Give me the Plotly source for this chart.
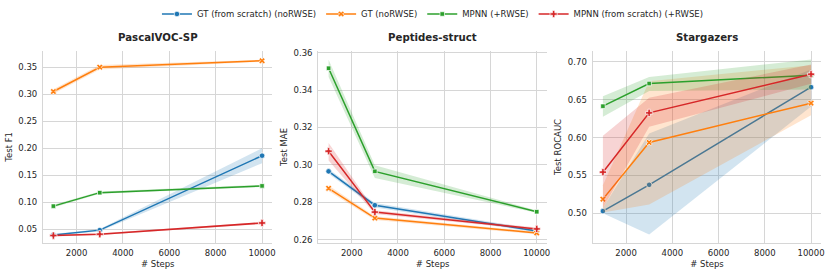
import plotly.graph_objects as go

steps = [1000, 3000, 10000]
series_names = ["GT (from scratch) (noRWSE)", "GT (noRWSE)", "MPNN (+RWSE)", "MPNN (from scratch) (+RWSE)"]
colors = ["#1f77b4", "#ff7f0e", "#2ca02c", "#d62728"]
fills = ["rgba(31,119,180,0.2)", "rgba(255,127,14,0.2)", "rgba(44,160,44,0.2)", "rgba(214,39,40,0.2)"]
symbols = ["circle", "x", "square", "cross"]
msizes = [5.5, 5.5, 4.5, 6]

panel_titles = ["PascalVOC-SP", "Peptides-struct", "Stargazers"]
y_titles = ["Test F1", "Test MAE", "Test ROCAUC"]

# PascalVOC-SP: mean, lower, upper per series
pascal_mean = [[0.039, 0.048, 0.186], [0.305, 0.350, 0.362], [0.0925, 0.1175, 0.130], [0.038, 0.0405, 0.0613]]
pascal_low = [[0.037, 0.046, 0.172], [0.301, 0.346, 0.360], [0.090, 0.1155, 0.128], [0.036, 0.039, 0.059]]
pascal_high = [[0.041, 0.050, 0.200], [0.309, 0.354, 0.364], [0.095, 0.1195, 0.132], [0.040, 0.042, 0.063]]

# Peptides-struct
pep_mean = [[0.2965, 0.2784, 0.2646], [0.2874, 0.2715, 0.2635], [0.3517, 0.2965, 0.2749], [0.3073, 0.2747, 0.2657]]
pep_low = [[0.2952, 0.2772, 0.2638], [0.2860, 0.2705, 0.2628], [0.3470, 0.2929, 0.2743], [0.3023, 0.2737, 0.2650]]
pep_high = [[0.2978, 0.2796, 0.2654], [0.2890, 0.2725, 0.2642], [0.3562, 0.2998, 0.2755], [0.3117, 0.2757, 0.2664]]

# Stargazers
star_mean = [[0.503, 0.5377, 0.6666], [0.5188, 0.5936, 0.6455], [0.6415, 0.6714, 0.6824], [0.5544, 0.6327, 0.6837]]
star_low = [[0.500, 0.4722, 0.641], [0.501, 0.5118, 0.6296], [0.6274, 0.6617, 0.6635], [0.507, 0.6142, 0.671]]
star_high = [[0.507, 0.6055, 0.690], [0.537, 0.6745, 0.6956], [0.6547, 0.680, 0.7031], [0.6024, 0.6525, 0.6965]]

panels = [(pascal_mean, pascal_low, pascal_high), (pep_mean, pep_low, pep_high), (star_mean, star_low, star_high)]
y_ranges = [[0.0236, 0.381], [0.2580, 0.3612], [0.4605, 0.7150]]
y_ticks = [[0.05, 0.10, 0.15, 0.20, 0.25, 0.30, 0.35], [0.26, 0.28, 0.30, 0.32, 0.34, 0.36], [0.50, 0.55, 0.60, 0.65, 0.70]]
y_fmt = [".2f", ".2f", ".2f"]
x_domains = [[0.0517, 0.3279], [0.3829, 0.6584], [0.7130, 0.9885]]
y_domain = [0.1185, 0.817]

W, H = 831, 276
font_family = "DejaVu Sans"
text_col = "#262626"
grid_col = "#d6d6d6"
fs = 8.5

fig = go.Figure()

for p, (mean, low, high) in enumerate(panels):
    xa = "x" if p == 0 else f"x{p+1}"
    ya = "y" if p == 0 else f"y{p+1}"
    for s in range(4):
        fig.add_trace(go.Scatter(
            x=steps + steps[::-1], y=high[s] + low[s][::-1],
            fill="toself", fillcolor=fills[s], line=dict(width=0),
            mode="lines", hoverinfo="skip", showlegend=False,
            xaxis=xa, yaxis=ya))
        fig.add_trace(go.Scatter(
            x=steps, y=mean[s], mode="lines+markers",
            name=series_names[s], legendgroup=series_names[s],
            showlegend=(p == 0),
            line=dict(color=colors[s], width=1.5),
            marker=dict(symbol=symbols[s], size=msizes[s], color=colors[s],
                        line=dict(color="white", width=0.7)),
            xaxis=xa, yaxis=ya))

layout = dict(
    width=W, height=H,
    margin=dict(l=0, r=0, t=0, b=0, pad=0, autoexpand=False),
    paper_bgcolor="white", plot_bgcolor="white",
    font=dict(family=font_family, size=fs, color=text_col),
    legend=dict(orientation="h", x=0.521, xanchor="center", y=1 - 14 / H, yanchor="middle",
                font=dict(size=fs, color=text_col), itemwidth=30, tracegroupgap=0,
                bgcolor="rgba(0,0,0,0)"),
    annotations=[],
)

for p in range(3):
    xk = "xaxis" if p == 0 else f"xaxis{p+1}"
    yk = "yaxis" if p == 0 else f"yaxis{p+1}"
    ya = "y" if p == 0 else f"y{p+1}"
    xa = "x" if p == 0 else f"x{p+1}"
    layout[xk] = dict(
        domain=x_domains[p], anchor=ya, range=[550, 10450], automargin=False,
        tickvals=[2000, 4000, 6000, 8000, 10000], ticktext=["2000", "4000", "6000", "8000", "10000"],
        showgrid=True, gridcolor=grid_col, gridwidth=1,
        showline=True, linecolor=grid_col, linewidth=1, mirror=False,
        zeroline=False, ticks="", ticklen=0, ticklabelstandoff=2,
        tickfont=dict(size=fs, color=text_col),
        title=dict(text="# Steps", font=dict(size=fs, color=text_col), standoff=3),
    )
    layout[yk] = dict(
        domain=y_domain, anchor=xa, range=y_ranges[p], automargin=False,
        tickvals=y_ticks[p], tickformat=y_fmt[p],
        showgrid=True, gridcolor=grid_col, gridwidth=1,
        showline=True, linecolor=grid_col, linewidth=1, mirror=False,
        zeroline=False, ticks="", ticklen=0, ticklabelstandoff=3,
        tickfont=dict(size=fs, color=text_col),
        title=dict(text=y_titles[p], font=dict(size=fs, color=text_col), standoff=4),
    )
    cx = (x_domains[p][0] + x_domains[p][1]) / 2
    layout["annotations"].append(dict(
        text=f"<b>{panel_titles[p]}</b>", x=cx, y=1 - 37 / H, xref="paper", yref="paper",
        xanchor="center", yanchor="middle", showarrow=False,
        font=dict(size=10.2, color=text_col, family=font_family)))

fig.update_layout(**layout)
fig.write_html("out.html", config={"displayModeBar": False},
               post_script="document.body.style.margin='0px';document.body.style.overflow='hidden';")
